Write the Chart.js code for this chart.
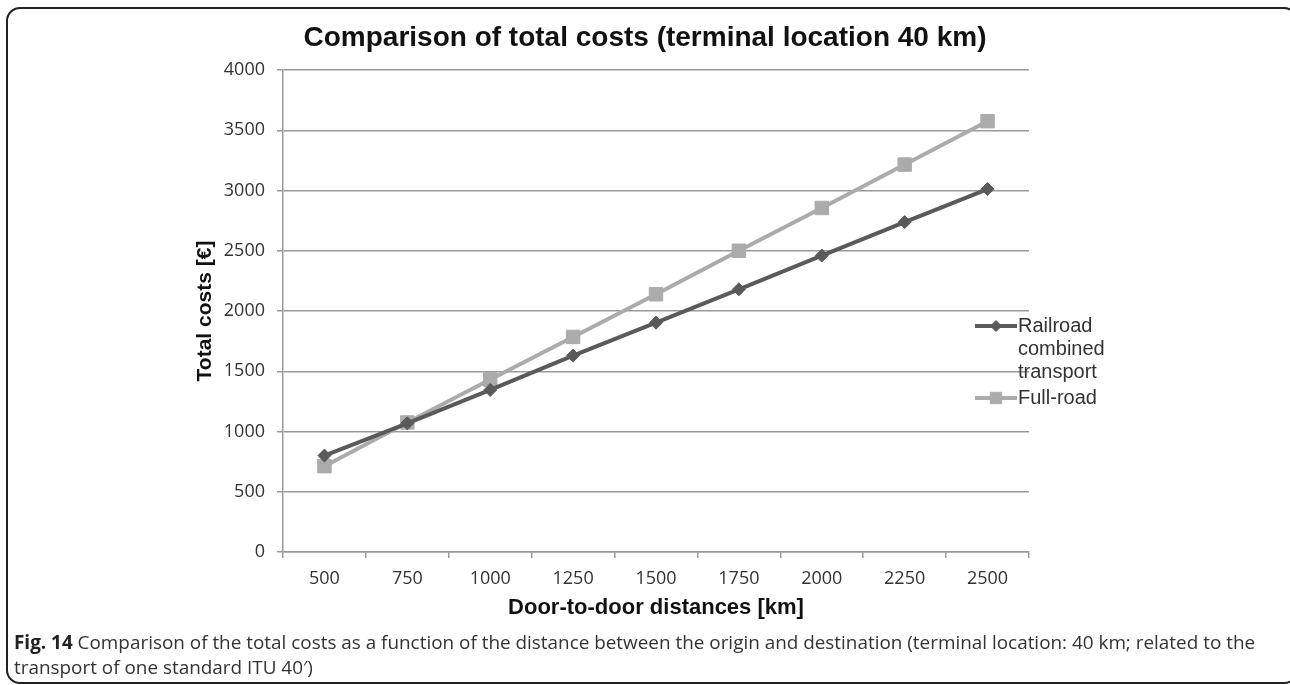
<!DOCTYPE html>
<html lang="en">
<head>
    <meta charset="UTF-8">
    <title>Comparison of total costs</title>
    <style>
        * { box-sizing: border-box; margin: 0; padding: 0; }
        body {
            width: 1290px;
            height: 685px;
            background: #ffffff;
            position: relative;
            overflow: hidden;
        }
        .frame {
            position: absolute;
            left: 6px;
            top: 7px;
            width: 1292px;
            height: 677px;
            border: 2px solid #222;
            border-radius: 14px;
        }
        #costChart {
            position: absolute;
            left: 0;
            top: 0;
        }
        .caption {
            position: absolute;
            left: 14px;
            top: 630px;
            font-family: "Open Sans", sans-serif;
            font-size: 18.9px;
            line-height: 25px;
            color: #333;
            white-space: nowrap;
        }
        .caption b { color: #222; }
    </style>
</head>
<body>
<div class="frame"></div>
<canvas id="costChart" width="1290" height="685"></canvas>
<div class="caption">
    <b>Fig. 14</b> Comparison of the total costs as a function of the distance between the origin and destination (terminal location: 40 km; related to the<br>
    transport of one standard ITU 40′)
</div>

<script src="https://cdn.jsdelivr.net/npm/chart.js"></script>
<script>
    // values
    const distances = ['500', '750', '1000', '1250', '1500', '1750', '2000', '2250', '2500'];
    const railroadCosts = [800, 1068, 1345, 1630, 1903, 2180, 2460, 2738, 3012];
    const fullRoadCosts = [712, 1075, 1431, 1785, 2139, 2500, 2855, 3215, 3575];
    const seriesNames = ['Railroad combined transport', 'Full-road'];
    const legendLines = [['Railroad', 'combined', 'transport'], ['Full-road']];
    const yTicks = [0, 500, 1000, 1500, 2000, 2500, 3000, 3500, 4000];

    const tickFont = { family: '"Open Sans", sans-serif', size: 18 };
    const boldArial = (size) => ({ family: '"Liberation Sans", Arial, sans-serif', size: size, weight: 'bold' });

    // legend on the right, registered as a layout box so the title stays centred on the page
    const sideLegend = {
        id: 'sideLegend',
        start(chart) {
            const box = {
                position: 'right',
                weight: 1000,
                fullSize: false,
                options: {},
                left: 0, top: 0, right: 0, bottom: 0, width: 0, height: 0,
                isHorizontal() { return false; },
                update(maxWidth, maxHeight) {
                    this.width = 261;
                    this.height = maxHeight;
                },
                draw() {
                    const ctx = chart.ctx;
                    const area = chart.chartArea;
                    const x0 = this.left - 54;
                    let y = (area.top + area.bottom) / 2 + 15;
                    ctx.save();
                    chart.data.datasets.forEach((ds, i) => {
                        ctx.strokeStyle = ds.borderColor;
                        ctx.lineWidth = ds.borderWidth;
                        ctx.beginPath();
                        ctx.moveTo(x0, y);
                        ctx.lineTo(x0 + 42, y);
                        ctx.stroke();
                        ctx.fillStyle = ds.backgroundColor;
                        ctx.lineWidth = 1;
                        Chart.helpers.drawPoint(ctx, {
                            pointStyle: ds.pointStyle,
                            radius: ds.pointRadius * 0.85,
                            rotation: 0,
                            borderWidth: 1
                        }, x0 + 21, y);
                        ctx.fillStyle = '#333';
                        ctx.font = '20px "Liberation Sans", Arial, sans-serif';
                        ctx.textBaseline = 'middle';
                        ctx.textAlign = 'left';
                        legendLines[i].forEach((line, k) => {
                            ctx.fillText(line, x0 + 43, y + k * 23);
                        });
                        y += legendLines[i].length * 23 + 3;
                    });
                    ctx.restore();
                }
            };
            Chart.layouts.addBox(chart, box);
        }
    };

    new Chart(document.getElementById('costChart'), {
        type: 'line',
        data: {
            labels: distances,
            datasets: [{
                label: seriesNames[0],
                data: railroadCosts,
                borderColor: '#5a5a5a',
                backgroundColor: '#5a5a5a',
                borderWidth: 4,
                pointStyle: 'rectRot',
                pointRadius: 6.5,
                pointBorderWidth: 1,
                tension: 0
            }, {
                label: seriesNames[1],
                data: fullRoadCosts,
                borderColor: '#ababab',
                backgroundColor: '#ababab',
                borderWidth: 4,
                pointStyle: 'rect',
                pointRadius: 9.5,
                pointBorderWidth: 1,
                tension: 0
            }]
        },
        options: {
            responsive: false,
            animation: false,
            layout: { padding: { left: 0, right: 0, top: 0, bottom: 64 } },
            plugins: {
                legend: { display: false },
                tooltip: { enabled: false },
                title: {
                    display: true,
                    text: 'Comparison of total costs (terminal location 40 km)',
                    color: '#111',
                    font: boldArial(28),
                    padding: { top: 21, bottom: 15.4 }
                }
            },
            scales: {
                x: {
                    offset: true,
                    grid: {
                        offset: true,
                        drawOnChartArea: false,
                        drawTicks: true,
                        tickLength: 6,
                        color: '#999',
                        lineWidth: 1.5
                    },
                    border: { display: true, color: '#999', width: 1.5 },
                    ticks: { color: '#333', font: tickFont, padding: 10, maxRotation: 0 },
                    title: {
                        display: true,
                        text: 'Door-to-door distances [km]',
                        color: '#111',
                        font: boldArial(22),
                        padding: { top: 0, bottom: 0 }
                    },
                    afterFit(scale) { scale.height = 69; }
                },
                y: {
                    min: 0,
                    max: 4000,
                    grid: { color: '#999', lineWidth: 1.5, tickLength: 6 },
                    border: { display: true, color: '#999', width: 1.5 },
                    afterBuildTicks(scale) {
                        scale.ticks = yTicks.map(v => ({ value: v }));
                    },
                    ticks: {
                        color: '#333',
                        font: tickFont,
                        padding: 12,
                        callback: (v) => String(v)
                    },
                    title: {
                        display: true,
                        text: 'Total costs [€]',
                        color: '#111',
                        font: boldArial(21),
                        padding: { top: 193, bottom: 0 }
                    },
                    afterFit(scale) { scale.width = 283; }
                }
            }
        },
        plugins: [sideLegend]
    });
</script>
</body>
</html>
